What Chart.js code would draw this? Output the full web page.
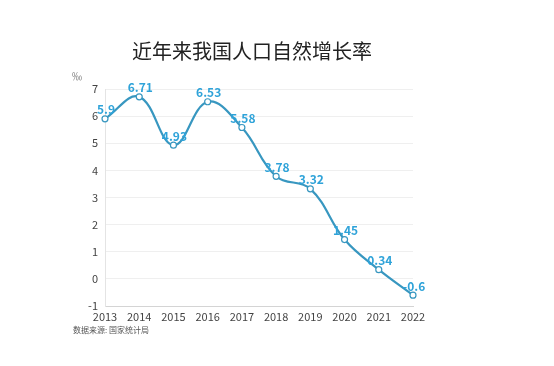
<!DOCTYPE html>
<html>
<head>
<meta charset="utf-8">
<script src="https://cdn.jsdelivr.net/npm/chart.js@4"></script>
<style>
  body { margin: 0; background: #fff; }
  canvas { display: block; }
</style>
</head>
<body>
<canvas id="rateChart" width="554" height="366"></canvas>
<script>
// 年份
var years = ['2013', '2014', '2015', '2016', '2017', '2018', '2019', '2020', '2021', '2022'];
// 人口自然增长率 (‰)
var rates = [5.9, 6.71, 4.93, 6.53, 5.58, 3.78, 3.32, 1.45, 0.34, -0.6];
// y 轴刻度范围
var yMin = -1;
var yMax = 7;

var lineColor = '#3897c0';
var labelColor = '#2fa3d9';
var cjk = '"Noto Sans CJK SC", "Noto Sans", sans-serif';

// 标题、单位、数据来源、数值标签
var extras = {
    id: 'extras',
    afterDatasetsDraw: function(chart) {
        var c = chart.ctx;
        c.save();
        // title
        c.fillStyle = '#222';
        c.font = '20px ' + cjk;
        c.textAlign = 'center';
        c.textBaseline = 'middle';
        c.fillText('近年来我国人口自然增长率', 252, 51);
        // unit
        c.fillStyle = '#777';
        c.font = '10px ' + cjk;
        c.textAlign = 'left';
        c.fillText('‰', 72, 76);
        // source
        c.fillStyle = '#555';
        c.font = '8px ' + cjk;
        c.fillText('数据来源: 国家统计局', 73, 330);
        // value labels
        var meta = chart.getDatasetMeta(0);
        c.fillStyle = labelColor;
        c.font = 'bold 12px ' + cjk;
        c.textAlign = 'center';
        meta.data.forEach(function(pt, i) {
            c.fillText(String(rates[i]), pt.x + 1, pt.y - 9);
        });
        c.restore();
    }
};

window.onload = function() {
    var ctx = document.getElementById('rateChart').getContext('2d');
    new Chart(ctx, {
        type: 'line',
        data: {
            labels: years,
            datasets: [{
                data: rates,
                borderColor: lineColor,
                borderWidth: 2.2,
                tension: 0.4,
                pointRadius: 3,
                pointBorderWidth: 1.2,
                pointBackgroundColor: '#fff',
                pointBorderColor: lineColor
            }]
        },
        options: {
            responsive: false,
            animation: false,
            layout: { padding: { top: 89, right: 141, left: 0, bottom: 0 } },
            plugins: {
                legend: { display: false },
                tooltip: { enabled: false }
            },
            scales: {
                x: {
                    offset: false,
                    afterFit: function(s) { s.height = 60; },
                    grid: { display: false, drawTicks: false },
                    border: { color: '#d4d4d4', width: 1 },
                    ticks: {
                        padding: 4,
                        color: '#444',
                        font: { family: cjk, size: 11 }
                    }
                },
                y: {
                    min: yMin,
                    max: yMax,
                    afterFit: function(s) { s.width = 105; },
                    grid: { color: '#efefef', drawTicks: false },
                    border: { color: '#e4e4e4', width: 1 },
                    ticks: {
                        stepSize: 1,
                        padding: 7,
                        color: '#444',
                        font: { family: cjk, size: 11 }
                    }
                }
            }
        },
        plugins: [extras]
    });
};
</script>
</body>
</html>
